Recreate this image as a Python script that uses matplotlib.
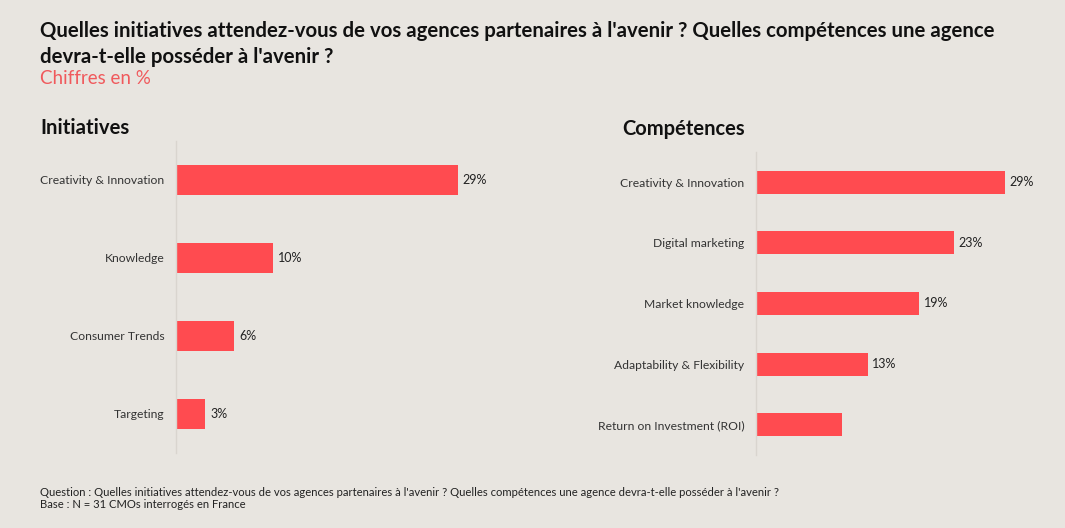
import matplotlib.pyplot as plt

plt.rcParams['font.family'] = ['Lato', 'DejaVu Sans']

# data
init_labels = ["Creativity & Innovation", "Knowledge", "Consumer Trends", "Targeting"]
init_values = [29, 10, 6, 3]
comp_labels = ["Creativity & Innovation", "Digital marketing", "Market knowledge",
               "Adaptability & Flexibility", "Return on Investment (ROI)"]
comp_values = [29, 23, 19, 13, 10]
comp_shown = [True, True, True, True, False]  # ROI has no value label on the original

bg = '#e8e5e0'
red = '#ff4b50'
W, H = 1065, 528

fig = plt.figure(figsize=(W / 100, H / 100), dpi=100, facecolor=bg)


def px_axes(x0, y0, x1, y1):
    return fig.add_axes([x0 / W, 1 - y1 / H, (x1 - x0) / W, (y1 - y0) / H])


def draw(ax, labels, values, shown, height):
    n = len(labels)
    ax.set_facecolor(bg)
    ax.barh(range(n), values, height=height, color=red, zorder=2)
    for i, (v, s) in enumerate(zip(values, shown)):
        if s:
            ax.text(v + 0.5, i, f"{v}%", va='center', ha='left', fontsize=9, color='#222222')
    ax.set_yticks(range(n))
    ax.set_yticklabels(labels, fontsize=8.7, color='#333333')
    ax.set_ylim(n - 0.5, -0.5)
    ax.set_xlim(0, 35)
    ax.set_xticks([])
    for sp in ['top', 'right', 'bottom']:
        ax.spines[sp].set_visible(False)
    ax.spines['left'].set_color('#d9d5cf')
    ax.spines['left'].set_linewidth(1)
    ax.tick_params(axis='y', length=0, pad=8.5)


ax1 = px_axes(176, 141, 516, 453)
draw(ax1, init_labels, init_values, [True] * 4, 0.385)

ax2 = px_axes(756, 152, 1057, 455)
draw(ax2, comp_labels, comp_values, comp_shown, 0.38)

fig.text(40 / W, 1 - 21 / H,
         "Quelles initiatives attendez-vous de vos agences partenaires à l'avenir ? Quelles compétences une agence\n"
         "devra-t-elle posséder à l'avenir ?",
         fontsize=14.7, fontweight='bold', color='#111111', va='top', ha='left', linespacing=1.4)
fig.text(40 / W, 1 - 78 / H, "Chiffres en %", fontsize=13.5, color='#f0595c',
         va='center', ha='left')
fig.text(40 / W, 1 - 128 / H, "Initiatives", fontsize=14.6, fontweight='bold', color='#111111',
         va='center', ha='left')
fig.text(622 / W, 1 - 129 / H, "Compétences", fontsize=14.5, fontweight='bold', color='#111111',
         va='center', ha='left')

fig.text(40 / W, 1 - 492 / H,
         "Question : Quelles initiatives attendez-vous de vos agences partenaires à l'avenir ? "
         "Quelles compétences une agence devra-t-elle posséder à l'avenir ?",
         fontsize=8.1, color='#222222', va='center', ha='left')
fig.text(40 / W, 1 - 504 / H, "Base : N = 31 CMOs interrogés en France",
         fontsize=8.1, color='#222222', va='center', ha='left')

fig.savefig('out.png', dpi=100, facecolor=bg)
